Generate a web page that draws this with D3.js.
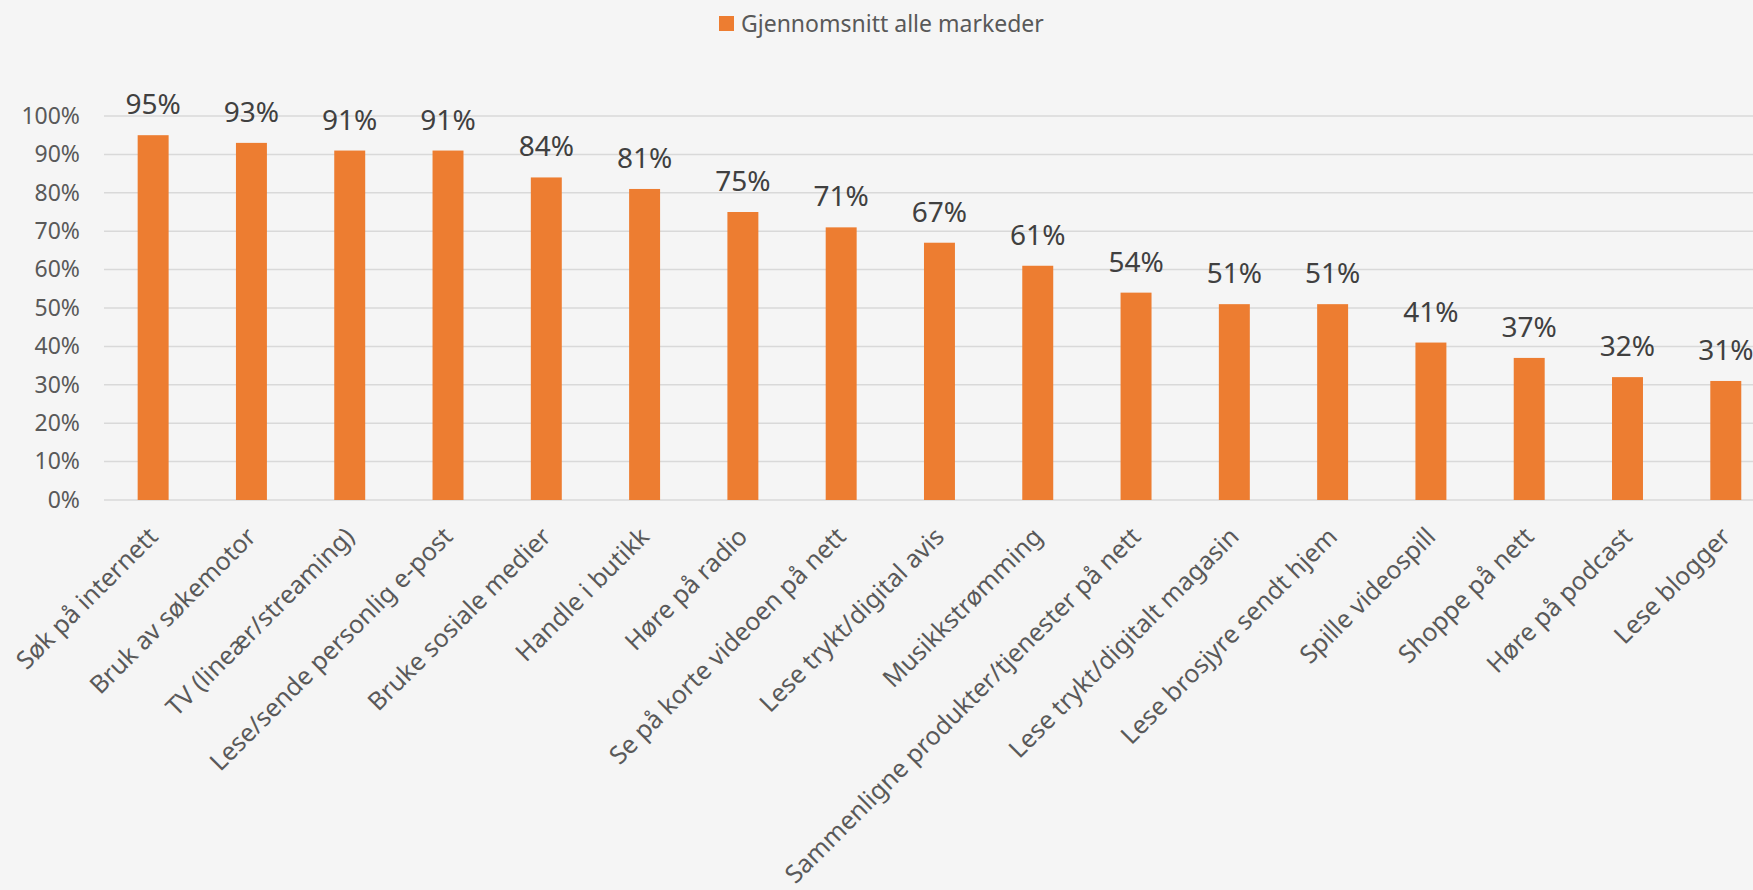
<!DOCTYPE html>
<html>
<head>
<meta charset="utf-8">
<script src="https://cdn.jsdelivr.net/npm/d3@7"></script>
<style>
  html, body { margin: 0; padding: 0; background: #f5f5f5; }
  svg { display: block; }
  text { font-family: "Noto Sans", "Open Sans", sans-serif; }
</style>
</head>
<body>
<svg id="chart" width="1753" height="890"></svg>
<script>
// Activities (x-axis categories) and the all-markets average share
const categories = [
  "Søk på internett",
  "Bruk av søkemotor",
  "TV (lineær/streaming)",
  "Lese/sende personlig e-post",
  "Bruke sosiale medier",
  "Handle i butikk",
  "Høre på radio",
  "Se på korte videoen på nett",
  "Lese trykt/digital avis",
  "Musikkstrømming",
  "Sammenligne produkter/tjenester på nett",
  "Lese trykt/digitalt magasin",
  "Lese brosjyre sendt hjem",
  "Spille videospill",
  "Shoppe på nett",
  "Høre på podcast",
  "Lese blogger"
];
const values = [95, 93, 91, 91, 84, 81, 75, 71, 67, 61, 54, 51, 51, 41, 37, 32, 31];
const seriesName = "Gjennomsnitt alle markeder";
const yTicks = [0, 10, 20, 30, 40, 50, 60, 70, 80, 90, 100];

const W = 1753, H = 890;
const margin = { left: 104, top: 116, bottom: 500 };
const barColor = "#ed7d31";
const gridColor = "#d9d9d9";
const axisText = "#595959";
const labelText = "#404040";

const svg = d3.select("#chart");
svg.append("rect").attr("width", W).attr("height", H).attr("fill", "#f5f5f5");

// The plot area runs past the right edge of the canvas, so the last column is clipped
const step = 98.29;
const x = d3.scaleBand()
  .domain(categories)
  .range([margin.left, margin.left + step * categories.length])
  .paddingInner(0.685)
  .paddingOuter(0.685 / 2);

const y = d3.scaleLinear().domain([0, 100]).range([margin.bottom, margin.top]);

// Horizontal gridlines
svg.append("g")
  .selectAll("line")
  .data(yTicks)
  .join("line")
  .attr("x1", margin.left)
  .attr("x2", W)
  .attr("y1", d => y(d))
  .attr("y2", d => y(d))
  .attr("stroke", gridColor)
  .attr("stroke-width", 1.5);

// Y axis labels
const yAxis = d3.axisLeft(y)
  .tickValues(yTicks)
  .tickFormat(d => d + "%")
  .tickSize(0)
  .tickPadding(0);
const gy = svg.append("g").attr("transform", "translate(80,0)").call(yAxis);
gy.select(".domain").remove();
gy.selectAll("text")
  .attr("fill", axisText)
  .attr("font-size", 23)
  .attr("font-family", "'Noto Sans', sans-serif");

// Bars
svg.append("g")
  .selectAll("rect")
  .data(values)
  .join("rect")
  .attr("x", (d, i) => x(categories[i]))
  .attr("width", x.bandwidth())
  .attr("y", d => y(d))
  .attr("height", d => y(0) - y(d))
  .attr("fill", barColor);

// Value labels above the bars
svg.append("g")
  .selectAll("text")
  .data(values)
  .join("text")
  .attr("x", (d, i) => x(categories[i]) + x.bandwidth() / 2)
  .attr("y", d => y(d) - 21)
  .attr("text-anchor", "middle")
  .attr("font-size", 28)
  .attr("fill", labelText)
  .text(d => d + "%");

// Rotated category labels
const xAxis = d3.axisBottom(x).tickSize(0).tickPadding(0);
const gx = svg.append("g").attr("transform", `translate(0,${margin.bottom})`).call(xAxis);
gx.select(".domain").remove();
gx.selectAll(".tick text")
  .attr("fill", axisText)
  .attr("font-size", 25)
  .attr("font-family", "'Noto Sans', sans-serif")
  .attr("text-anchor", "end")
  .attr("x", 0)
  .attr("y", 0)
  .attr("dy", "0.35em")
  .attr("transform", "translate(0,32) rotate(-45)");

// Legend
const legend = svg.append("g").attr("transform", "translate(719,16)");
legend.append("rect")
  .attr("width", 15).attr("height", 15)
  .attr("fill", barColor);
legend.append("text")
  .attr("x", 22)
  .attr("y", 16)
  .attr("font-size", 23)
  .attr("fill", axisText)
  .text(seriesName);
</script>
</body>
</html>
